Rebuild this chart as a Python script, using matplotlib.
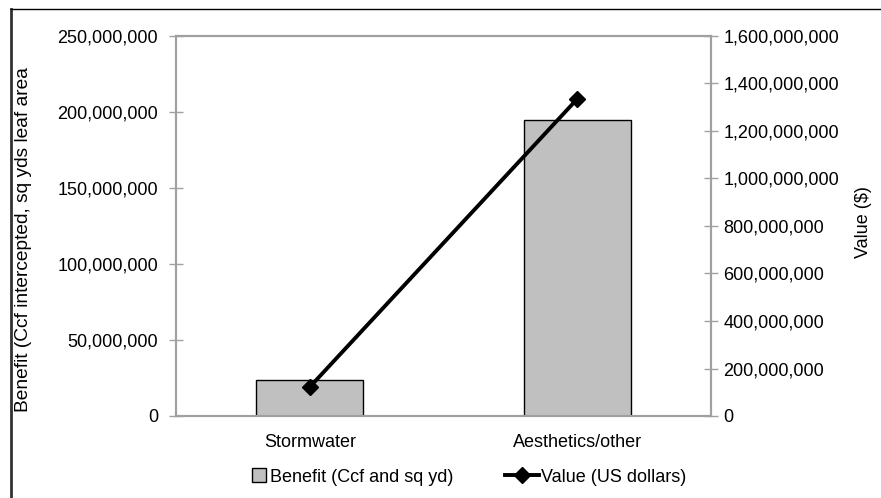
import matplotlib
matplotlib.use("Agg")
import matplotlib.pyplot as plt
import matplotlib.patches as mpatches
from matplotlib.lines import Line2D
from matplotlib.legend_handler import HandlerPatch
from matplotlib.ticker import FuncFormatter

plt.rcParams['font.family'] = ['Liberation Sans', 'DejaVu Sans']

categories = ["Stormwater", "Aesthetics/other"]
benefit = [23500000, 194500000]
value_usd = [122000000, 1335000000]
left_ticks = [0, 50000000, 100000000, 150000000, 200000000, 250000000]
right_ticks = [0, 200000000, 400000000, 600000000, 800000000,
               1000000000, 1200000000, 1400000000, 1600000000]
series_labels = ["Benefit (Ccf and sq yd)", "Value (US dollars)"]

W, H = 881, 498
fig = plt.figure(figsize=(W / 100, H / 100), dpi=100)
ax = fig.add_axes([176 / W, 1 - 416 / H, (711 - 176) / W, (416 - 36) / H])
ax2 = ax.twinx()

grey = "#a0a0a0"
fs = 13
x = list(range(len(categories)))

bars = ax.bar(x, benefit, width=0.4, color="#c0c0c0", edgecolor="black",
              linewidth=1.0, label=series_labels[0], zorder=2)
line, = ax2.plot(x, value_usd, color="black", linewidth=2.8, marker="D",
                 markersize=8.5, label=series_labels[1], zorder=3)

ax.set_xlim(-0.5, 1.5)
ax.set_ylim(0, 250000000)
ax2.set_ylim(0, 1600000000)
ax.set_yticks(left_ticks)
ax2.set_yticks(right_ticks)
fmt = FuncFormatter(lambda v, p: f"{int(round(v)):,}")
ax.yaxis.set_major_formatter(fmt)
ax2.yaxis.set_major_formatter(fmt)
ax.set_xticks(x)
ax.set_xticklabels(categories, fontsize=fs)

for a in (ax, ax2):
    for s in a.spines.values():
        s.set_color(grey)
        s.set_linewidth(1.5)
ax.tick_params(axis='y', direction='inout', length=10, width=1, color=grey,
               labelsize=fs, pad=8)
ax2.tick_params(axis='y', direction='inout', length=10, width=1, color=grey,
                labelsize=fs, pad=4)
ax.tick_params(axis='x', length=0, labelsize=fs, pad=13)

ax.set_ylabel("Benefit (Ccf intercepted, sq yds leaf area", fontsize=13.8)
ax.yaxis.set_label_coords((32 - 176) / 535, (416 - 240) / 380)
ax2.set_ylabel("Value ($)", fontsize=fs)
ax2.yaxis.set_label_coords((855 - 176) / 535, (416 - 222) / 380)


def square_patch(legend, orig_handle, xdescent, ydescent, width, height, fontsize):
    s = 10
    return mpatches.Rectangle((width - s - 1, (height - s) / 2 - ydescent), s, s)


fig.legend(handles=[bars.patches[0], line], labels=series_labels,
           loc="center", bbox_to_anchor=(460 / W, 1 - 477 / H),
           ncol=2, frameon=False, fontsize=fs, handlelength=1.85,
           columnspacing=2.9, handletextpad=0.12,
           handler_map={mpatches.Rectangle: HandlerPatch(patch_func=square_patch)})

fig.add_artist(Line2D([11 / W, 11 / W], [0, 1 - 9 / H], transform=fig.transFigure,
                      color="#333333", linewidth=2.0))
fig.add_artist(Line2D([11 / W, 1], [1 - 9 / H, 1 - 9 / H], transform=fig.transFigure,
                      color="black", linewidth=1.0))

fig.savefig("out.png", dpi=100)
